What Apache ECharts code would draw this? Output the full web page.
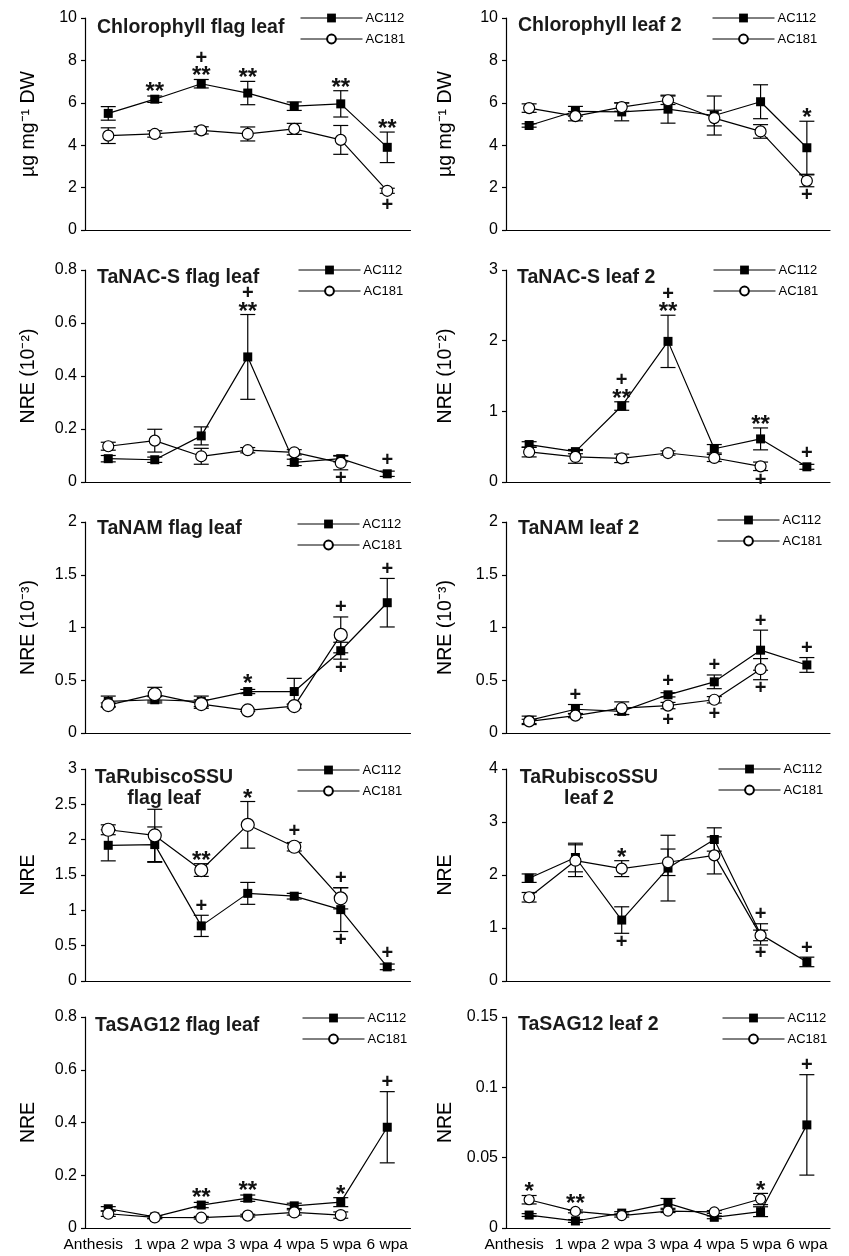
<!DOCTYPE html>
<html><head><meta charset="utf-8">
<script src="https://cdn.jsdelivr.net/npm/echarts@6/dist/echarts.min.js"></script>
<style>html,body{margin:0;padding:0;background:#fff}#c{width:849px;height:1256px}</style>
</head><body><div id="c"></div>
<script>
// ---------- data ----------
const categories = ['Anthesis', '1 wpa', '2 wpa', '3 wpa', '4 wpa', '5 wpa', '6 wpa'];
const seriesNames = ['AC112', 'AC181'];
const panelTitles = ['Chlorophyll flag leaf', 'Chlorophyll leaf 2', 'TaNAC-S flag leaf', 'TaNAC-S leaf 2',
  'TaNAM flag leaf', 'TaNAM leaf 2', 'TaRubiscoSSU\nflag leaf', 'TaRubiscoSSU\nleaf 2', 'TaSAG12 flag leaf', 'TaSAG12 leaf 2'];
const yAxisNames = ['µg mg⁻¹ DW', 'µg mg⁻¹ DW', 'NRE (10⁻²)', 'NRE (10⁻²)', 'NRE (10⁻³)', 'NRE (10⁻³)', 'NRE', 'NRE', 'NRE', 'NRE'];
const yMax = [10, 10, 0.8, 3, 2, 2, 3, 4, 0.8, 0.15];
const yInterval = [2, 2, 0.2, 1, 0.5, 0.5, 0.5, 1, 0.2, 0.05];

// Chlorophyll flag leaf
const chlFlagAC112 = [5.5, 6.17, 6.9, 6.46, 5.84, 5.95, 3.9];
const chlFlagAC112Err = [0.32, 0.15, 0.2, 0.55, 0.2, 0.62, 0.72];
const chlFlagAC181 = [4.45, 4.53, 4.7, 4.53, 4.77, 4.25, 1.85];
const chlFlagAC181Err = [0.37, 0.15, 0.17, 0.33, 0.26, 0.68, 0.12];
const chlFlagMarks = [[1, 0, 'up', '**'], [2, 0, 'up', '**'], [2, 0, 'up', '+'], [3, 0, 'up', '**'], [5, 0, 'up', '**'], [6, 0, 'up', '**'], [6, 1, 'down', '+']];
// Chlorophyll leaf 2
const chlL2AC112 = [4.93, 5.6, 5.57, 5.7, 5.4, 6.05, 3.88];
const chlL2AC112Err = [0.08, 0.23, 0.42, 0.66, 0.92, 0.8, 1.25];
const chlL2AC181 = [5.75, 5.37, 5.8, 6.12, 5.28, 4.65, 2.32];
const chlL2AC181Err = [0.2, 0.22, 0.2, 0.2, 0.37, 0.32, 0.28];
const chlL2Marks = [[6, 0, 'up', '*'], [6, 1, 'down', '+']];
// TaNAC-S flag leaf
const nacFlagAC112 = [0.088, 0.084, 0.174, 0.472, 0.074, 0.088, 0.031];
const nacFlagAC112Err = [0.012, 0.01, 0.034, 0.16, 0.012, 0.012, 0.01];
const nacFlagAC181 = [0.135, 0.156, 0.097, 0.12, 0.112, 0.072, null];
const nacFlagAC181Err = [0.015, 0.043, 0.03, 0.01, 0.01, 0.026, null];
const nacFlagMarks = [[3, 0, 'up', '**'], [3, 0, 'up', '+'], [5, 1, 'down', '+'], [6, 0, 'up', '+']];
// TaNAC-S leaf 2
const nacL2AC112 = [0.53, 0.43, 1.075, 1.99, 0.47, 0.61, 0.215];
const nacL2AC112Err = [0.04, 0.03, 0.06, 0.37, 0.06, 0.155, 0.035];
const nacL2AC181 = [0.425, 0.355, 0.335, 0.41, 0.34, 0.222, null];
const nacL2AC181Err = [0.07, 0.09, 0.06, 0.03, 0.05, 0.06, null];
const nacL2Marks = [[2, 0, 'up', '**'], [2, 0, 'up', '+'], [3, 0, 'up', '**'], [3, 0, 'up', '+'], [5, 0, 'up', '**'], [5, 1, 'down', '+'], [6, 0, 'up', '+']];
// TaNAM flag leaf
const namFlagAC112 = [0.3, 0.315, 0.3, 0.393, 0.393, 0.78, 1.235];
const namFlagAC112Err = [0.05, 0.03, 0.05, 0.02, 0.125, 0.08, 0.23];
const namFlagAC181 = [0.265, 0.368, 0.274, 0.214, 0.255, 0.93, null];
const namFlagAC181Err = [0.02, 0.065, 0.04, 0.01, 0.02, 0.17, null];
const namFlagMarks = [[3, 0, 'up', '*'], [5, 1, 'up', '+'], [5, 0, 'down', '+'], [6, 0, 'up', '+']];
// TaNAM leaf 2
const namL2AC112 = [0.12, 0.225, 0.205, 0.362, 0.485, 0.785, 0.645];
const namL2AC112Err = [0.04, 0.045, 0.03, 0.02, 0.065, 0.19, 0.07];
const namL2AC181 = [0.11, 0.165, 0.235, 0.26, 0.315, 0.605, null];
const namL2AC181Err = [0.02, 0.02, 0.06, 0.03, 0.03, 0.1, null];
const namL2Marks = [[1, 0, 'up', '+'], [3, 0, 'up', '+'], [3, 1, 'down', '+'], [4, 0, 'up', '+'], [4, 1, 'down', '+'], [5, 0, 'up', '+'], [5, 1, 'down', '+'], [6, 0, 'up', '+']];
// TaRubiscoSSU flag leaf
const rubFlagAC112 = [1.92, 1.93, 0.78, 1.24, 1.2, 1.01, 0.2];
const rubFlagAC112Err = [0.22, 0.25, 0.15, 0.155, 0.04, 0.31, 0.04];
const rubFlagAC181 = [2.14, 2.06, 1.57, 2.21, 1.9, 1.17, null];
const rubFlagAC181Err = [0.07, 0.37, 0.09, 0.33, 0.06, 0.15, null];
const rubFlagMarks = [[2, 1, 'up', '**'], [2, 0, 'up', '+'], [3, 1, 'up', '*'], [4, 1, 'up', '+'], [5, 1, 'up', '+'], [5, 0, 'down', '+'], [6, 0, 'up', '+']];
// TaRubiscoSSU leaf 2
const rubL2AC112 = [1.94, 2.33, 1.15, 2.13, 2.67, 0.88, 0.36];
const rubL2AC112Err = [0.08, 0.27, 0.25, 0.62, 0.22, 0.2, 0.09];
const rubL2AC181 = [1.58, 2.27, 2.12, 2.24, 2.37, 0.86, null];
const rubL2AC181Err = [0.09, 0.3, 0.15, 0.25, 0.35, 0.1, null];
const rubL2Marks = [[2, 1, 'up', '*'], [2, 0, 'down', '+'], [5, 0, 'up', '+'], [5, 0, 'down', '+'], [6, 0, 'up', '+']];
// TaSAG12 flag leaf
const sagFlagAC112 = [0.073, 0.042, 0.087, 0.113, 0.084, 0.098, 0.382];
const sagFlagAC112Err = [0.008, 0.005, 0.01, 0.012, 0.01, 0.017, 0.135];
const sagFlagAC181 = [0.054, 0.04, 0.039, 0.047, 0.059, 0.049, null];
const sagFlagAC181Err = [0.01, 0.005, 0.005, 0.005, 0.01, 0.012, null];
const sagFlagMarks = [[2, 0, 'up', '**'], [3, 0, 'up', '**'], [5, 0, 'up', '*'], [6, 0, 'up', '+']];
// TaSAG12 leaf 2
const sagL2AC112 = [0.0092, 0.005, 0.0106, 0.0175, 0.0076, 0.0116, 0.0733];
const sagL2AC112Err = [0.001, 0.001, 0.001, 0.0035, 0.001, 0.0035, 0.0357];
const sagL2AC181 = [0.0201, 0.0118, 0.0088, 0.012, 0.0114, 0.0206, null];
const sagL2AC181Err = [0.003, 0.001, 0.001, 0.001, 0.001, 0.004, null];
const sagL2Marks = [[0, 1, 'up', '*'], [1, 1, 'up', '**'], [5, 1, 'up', '*'], [6, 0, 'up', '+']];

const panels = [
  [chlFlagAC112, chlFlagAC112Err, chlFlagAC181, chlFlagAC181Err, chlFlagMarks],
  [chlL2AC112, chlL2AC112Err, chlL2AC181, chlL2AC181Err, chlL2Marks],
  [nacFlagAC112, nacFlagAC112Err, nacFlagAC181, nacFlagAC181Err, nacFlagMarks],
  [nacL2AC112, nacL2AC112Err, nacL2AC181, nacL2AC181Err, nacL2Marks],
  [namFlagAC112, namFlagAC112Err, namFlagAC181, namFlagAC181Err, namFlagMarks],
  [namL2AC112, namL2AC112Err, namL2AC181, namL2AC181Err, namL2Marks],
  [rubFlagAC112, rubFlagAC112Err, rubFlagAC181, rubFlagAC181Err, rubFlagMarks],
  [rubL2AC112, rubL2AC112Err, rubL2AC181, rubL2AC181Err, rubL2Marks],
  [sagFlagAC112, sagFlagAC112Err, sagFlagAC181, sagFlagAC181Err, sagFlagMarks],
  [sagL2AC112, sagL2AC112Err, sagL2AC181, sagL2AC181Err, sagL2Marks]
];

// ---------- layout / style ----------
const FONT = "'Liberation Sans', Arial, Helvetica, sans-serif";
const colLeft = [85, 506], colWidth = [325.5, 324];
const rowTop = [18, 270, 522, 769, 1017], rowBottom = [230, 482, 733, 981, 1228];
const titlePos = [[97, 17], [518, 15], [97, 267], [517, 267], [97, 518], [518, 518], [164, 767], [589, 767], [95, 1015], [518, 1014]];
const legendPos = [[300, 11.5], [712, 11.5], [298, 263.5], [713, 263.5], [297, 517.5], [717, 513.5], [297, 763.5], [718, 762.5], [302, 1011.5], [722, 1011.5]];
const circleSize = [11, 11, 11, 11, 13, 11, 13, 11, 11, 10];
const squareSize = 9;
const LW = 1.2;
const axisLineStyle = { color: '#000', width: LW };

const grids = [], xAxes = [], yAxes = [], series = [], titles = [], legends = [];

function errRender(params, api) {
  const x = api.value(0), m = api.value(1), e = api.value(2);
  if (isNaN(m) || isNaN(e)) return null;
  const t = api.coord([x, m + e]), b = api.coord([x, m - e]);
  const hw = 7.5, st = { stroke: '#000', lineWidth: LW, fill: null };
  return { type: 'group', children: [
    { type: 'line', shape: { x1: t[0], y1: t[1], x2: b[0], y2: b[1] }, style: st },
    { type: 'line', shape: { x1: t[0] - hw, y1: t[1], x2: t[0] + hw, y2: t[1] }, style: st },
    { type: 'line', shape: { x1: b[0] - hw, y1: b[1], x2: b[0] + hw, y2: b[1] }, style: st }
  ] };
}

panels.forEach((p, k) => {
  const col = k % 2, row = Math.floor(k / 2);
  const [a, ae, b, be, marks] = p;
  grids.push({ left: colLeft[col], top: rowTop[row], width: colWidth[col], height: rowBottom[row] - rowTop[row] });
  xAxes.push({
    gridIndex: k, type: 'category', data: categories, boundaryGap: true,
    axisLine: { lineStyle: axisLineStyle },
    axisTick: { alignWithLabel: true, inside: true, length: 5, interval: 0, lineStyle: axisLineStyle },
    axisLabel: {
      show: row === 4, interval: 0, fontSize: 15.5, color: '#000', margin: 9, fontFamily: FONT,
      formatter: (v, i) => i === 0 ? '{a|' + v + '}' : v,
      rich: { a: { fontSize: 15.5, color: '#000', fontFamily: FONT, padding: [0, 30, 0, 0] } }
    },
    splitLine: { show: false }
  });
  yAxes.push({
    gridIndex: k, type: 'value', min: 0, max: yMax[k], interval: yInterval[k],
    name: yAxisNames[k], nameLocation: 'middle', nameGap: col ? 50 : 46,
    nameTextStyle: { fontSize: 19.5, color: '#000', fontFamily: FONT },
    axisLine: { show: true, lineStyle: axisLineStyle },
    axisTick: { show: true, inside: false, length: 4, lineStyle: axisLineStyle },
    axisLabel: { fontSize: 16, color: '#000', margin: 8, fontFamily: FONT },
    splitLine: { show: false }
  });
  titles.push({
    text: panelTitles[k], left: titlePos[k][0], top: titlePos[k][1], padding: 0,
    textAlign: k === 6 || k === 7 ? 'center' : 'left',
    textStyle: { fontSize: 19.5, fontWeight: 'bold', color: '#1a1a1a', fontFamily: FONT, lineHeight: 21 }
  });
  legends.push({
    left: legendPos[k][0], top: legendPos[k][1], orient: 'vertical', padding: 0,
    itemWidth: 62, itemHeight: 11, itemGap: 8, selectedMode: false,
    lineStyle: { width: 1 },
    data: seriesNames, textStyle: { fontSize: 13, color: '#000', fontFamily: FONT, padding: [0, 0, 0, -2] }
  });
  const means = [a, b], errs = [ae, be];
  // error bars
  [0, 1].forEach(s => {
    series.push({
      type: 'custom', name: 'err' + s + '_' + k, xAxisIndex: k, yAxisIndex: k, z: 1, clip: false,
      silent: true, encode: { x: 0, y: 1 },
      data: means[s].map((v, i) => v == null ? [i, NaN, NaN] : [i, v, errs[s][i]]),
      renderItem: errRender
    });
  });
  // lines with markers
  series.push({
    type: 'line', name: seriesNames[0], xAxisIndex: k, yAxisIndex: k, z: 2,
    data: a, symbol: 'rect', symbolSize: squareSize, showAllSymbol: true, connectNulls: false,
    lineStyle: { color: '#000', width: LW }, itemStyle: { color: '#000', borderColor: '#000', borderWidth: 0 },
    emphasis: { disabled: true }, animation: false
  });
  series.push({
    type: 'line', name: seriesNames[1], xAxisIndex: k, yAxisIndex: k, z: 2,
    data: b, symbol: 'circle', symbolSize: circleSize[k], showAllSymbol: true, connectNulls: false,
    lineStyle: { color: '#000', width: LW }, itemStyle: { color: '#fff', borderColor: '#000', borderWidth: LW },
    emphasis: { disabled: true }, animation: false
  });
  // significance annotations
  const levels = marks.map((m, i) => marks.slice(0, i).filter(o => o[0] === m[0] && o[1] === m[1] && o[2] === m[2]).length);
  const symHalf = [squareSize / 2, circleSize[k] / 2];
  series.push({
    type: 'custom', name: 'sig_' + k, xAxisIndex: k, yAxisIndex: k, z: 5, clip: false, silent: true,
    encode: { x: 0, y: 1 },
    data: marks.map(m => [m[0], means[m[1]][m[0]]]),
    renderItem: (params, api) => {
      const m = marks[params.dataIndex];
      const x = m[0], s = m[1], up = m[2] === 'up';
      const v = means[s][x], e = errs[s][x];
      const pMean = api.coord([x, v]);
      const pEnd = api.coord([x, up ? v + e : v - e]);
      let edge = up ? Math.min(pEnd[1], pMean[1] - symHalf[s]) : Math.max(pEnd[1], pMean[1] + symHalf[s]);
      const star = m[3].indexOf('*') >= 0;
      const gap = 9, step = 12;
      let y = up ? edge - gap - levels[params.dataIndex] * step : edge + gap + levels[params.dataIndex] * step;
      const fs = star ? 24 : 20;
      if (star) y += fs * 0.27;
      return { type: 'text', x: pMean[0], y: y,
        style: { text: m[3], fontSize: fs, fontWeight: 'bold', fontFamily: FONT, fill: '#111', align: 'center', verticalAlign: 'middle' } };
    }
  });
});

const chart = echarts.init(document.getElementById('c'));
chart.setOption({
  animation: false,
  backgroundColor: '#fff',
  textStyle: { fontFamily: FONT },
  title: titles, legend: legends, grid: grids, xAxis: xAxes, yAxis: yAxes, series: series
});
</script></body></html>
